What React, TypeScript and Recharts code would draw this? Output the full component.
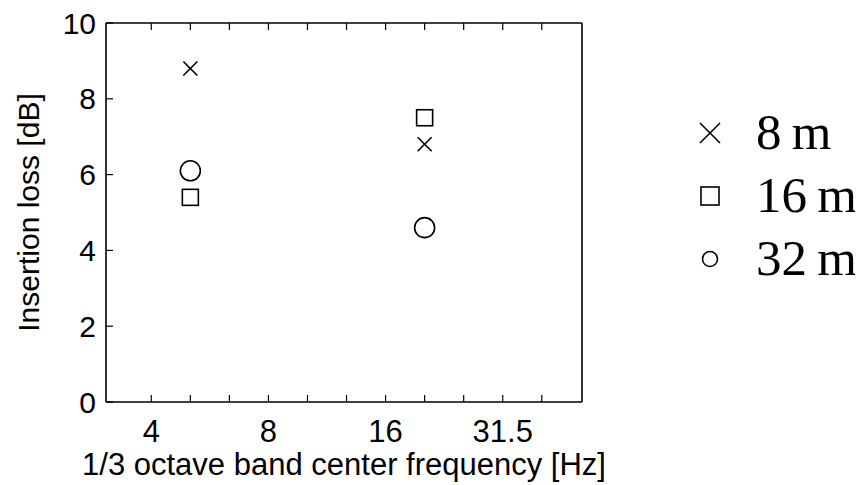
import React from 'react';
import { ScatterChart, Scatter, XAxis, YAxis, Legend } from 'recharts';

const bandLabels = ['4', '5', '6.3', '8', '10', '12.5', '16', '20', '25', '31.5', '40'];
const labeledBands = ['4', '8', '16', '31.5'];
const yTicks = [0, 2, 4, 6, 8, 10];
const pointBands = ['5', '20'];
const loss8m = [8.8, 6.8];
const loss16m = [5.4, 7.5];
const loss32m = [6.1, 4.6];
const seriesNames = ['8\u2009m', '16\u2009m', '32\u2009m'];
const markerKinds = ['cross', 'square', 'circle'];

const toPoints = (vals: number[]) =>
  pointBands.map((b, i) => ({ x: bandLabels.indexOf(b), y: vals[i] }));

const seriesData = [toPoints(loss8m), toPoints(loss16m), toPoints(loss32m)];

const SANS = '"Liberation Sans", Arial, Helvetica, sans-serif';
const SERIF = '"Liberation Serif", "Times New Roman", serif';
const FS_X = 31;
const FS_Y = 30;

const Marker = ({ kind, cx, cy, size }: { kind: string; cx: number; cy: number; size: number }) => {
  const h = size / 2;
  if (kind === 'cross') {
    return (
      <g stroke="#000" strokeWidth={1.6} fill="none">
        <line x1={cx - h} y1={cy - h} x2={cx + h} y2={cy + h} />
        <line x1={cx - h} y1={cy + h} x2={cx + h} y2={cy - h} />
      </g>
    );
  }
  if (kind === 'square') {
    return <rect x={cx - h} y={cy - h} width={size} height={size} stroke="#000" strokeWidth={1.6} fill="none" />;
  }
  return <circle cx={cx} cy={cy} r={h} stroke="#000" strokeWidth={1.6} fill="none" />;
};

const makeShape = (kind: string, size: number) => (props: any) => {
  const { cx, cy } = props;
  if (cx == null || cy == null) return <g />;
  return <Marker kind={kind} cx={cx} cy={cy} size={size} />;
};

const plotSizes = [14, 16, 20];
const legendSizes = [20, 18, 15];

const BottomTick = (props: any) => {
  const { x, y, payload } = props;
  const lbl = bandLabels[payload.value];
  if (!labeledBands.includes(lbl)) return <g />;
  return (
    <text x={x} y={y} dy="0.71em" textAnchor="middle" fill="#000" fontSize={FS_X} fontFamily={SANS}>
      {lbl}
    </text>
  );
};

const EmptyTick = () => <g />;

const LegendContent = () => (
  <div style={{ display: 'flex', flexDirection: 'column' }}>
    {seriesNames.map((name, i) => (
      <div key={name} style={{ display: 'flex', alignItems: 'center', height: 63 }}>
        <svg width={30} height={30} style={{ display: 'block', flex: 'none' }}>
          <Marker kind={markerKinds[i]} cx={15} cy={15} size={legendSizes[i]} />
        </svg>
        <span
          style={{
            marginLeft: 31,
            fontFamily: SERIF,
            fontSize: 51,
            lineHeight: '63px',
            color: '#000',
            whiteSpace: 'nowrap',
          }}
        >
          {name}
        </span>
      </div>
    ))}
  </div>
);

export default function App() {
  return (
    <ScatterChart
      width={855}
      height={477}
      margin={{ top: 14, right: 280, bottom: 0, left: 0 }}
      style={{ background: '#fff', overflow: 'visible' }}
    >
      <XAxis
        xAxisId="bottom"
        dataKey="x"
        type="number"
        orientation="bottom"
        domain={[-1.16, 11.03]}
        allowDataOverflow
        ticks={bandLabels.map((_, i) => i)}
        interval={0}
        height={83}
        tickSize={-7}
        tickMargin={25}
        tick={<BottomTick />}
        axisLine={{ stroke: '#000', strokeWidth: 1.6 }}
        tickLine={{ stroke: '#000', strokeWidth: 1.2 }}
        label={{
          value: '1/3 octave band center frequency [Hz]',
          position: 'insideBottom',
          offset: 10,
          style: { fontFamily: SANS, fontSize: FS_X, fill: '#000' },
        }}
      />
      <XAxis
        xAxisId="top"
        dataKey="x"
        type="number"
        orientation="top"
        domain={[-1.16, 11.03]}
        allowDataOverflow
        ticks={bandLabels.map((_, i) => i)}
        interval={0}
        height={1}
        tickSize={-7}
        tick={<EmptyTick />}
        axisLine={{ stroke: '#000', strokeWidth: 1.6 }}
        tickLine={{ stroke: '#000', strokeWidth: 1.2 }}
      />
      <YAxis
        yAxisId="left"
        dataKey="y"
        type="number"
        orientation="left"
        domain={[0, 10]}
        ticks={yTicks}
        interval={0}
        width={98}
        tickSize={-7}
        tickMargin={17}
        tick={{ fill: '#000', fontSize: FS_Y, fontFamily: SANS }}
        axisLine={{ stroke: '#000', strokeWidth: 1.6 }}
        tickLine={{ stroke: '#000', strokeWidth: 1.2 }}
        label={{
          value: 'Insertion loss [dB]',
          angle: -90,
          position: 'insideLeft',
          offset: 20,
          style: { fontFamily: SANS, fontSize: FS_Y, fill: '#000', textAnchor: 'middle' },
        }}
      />
      <YAxis
        yAxisId="right"
        dataKey="y"
        type="number"
        orientation="right"
        domain={[0, 10]}
        ticks={yTicks}
        interval={0}
        width={1}
        tickSize={-7}
        tick={<EmptyTick />}
        axisLine={{ stroke: '#000', strokeWidth: 1.6 }}
        tickLine={{ stroke: '#000', strokeWidth: 1.2 }}
      />
      {seriesData.map((d, i) => (
        <Scatter
          key={seriesNames[i]}
          name={seriesNames[i]}
          data={d}
          xAxisId="bottom"
          yAxisId="left"
          shape={makeShape(markerKinds[i], plotSizes[i])}
          isAnimationActive={false}
        />
      ))}
      <Legend
        layout="vertical"
        align="center"
        verticalAlign="middle"
        content={<LegendContent />}
        wrapperStyle={{ left: 687, top: 93, width: 175, height: 190 }}
      />
    </ScatterChart>
  );
}
